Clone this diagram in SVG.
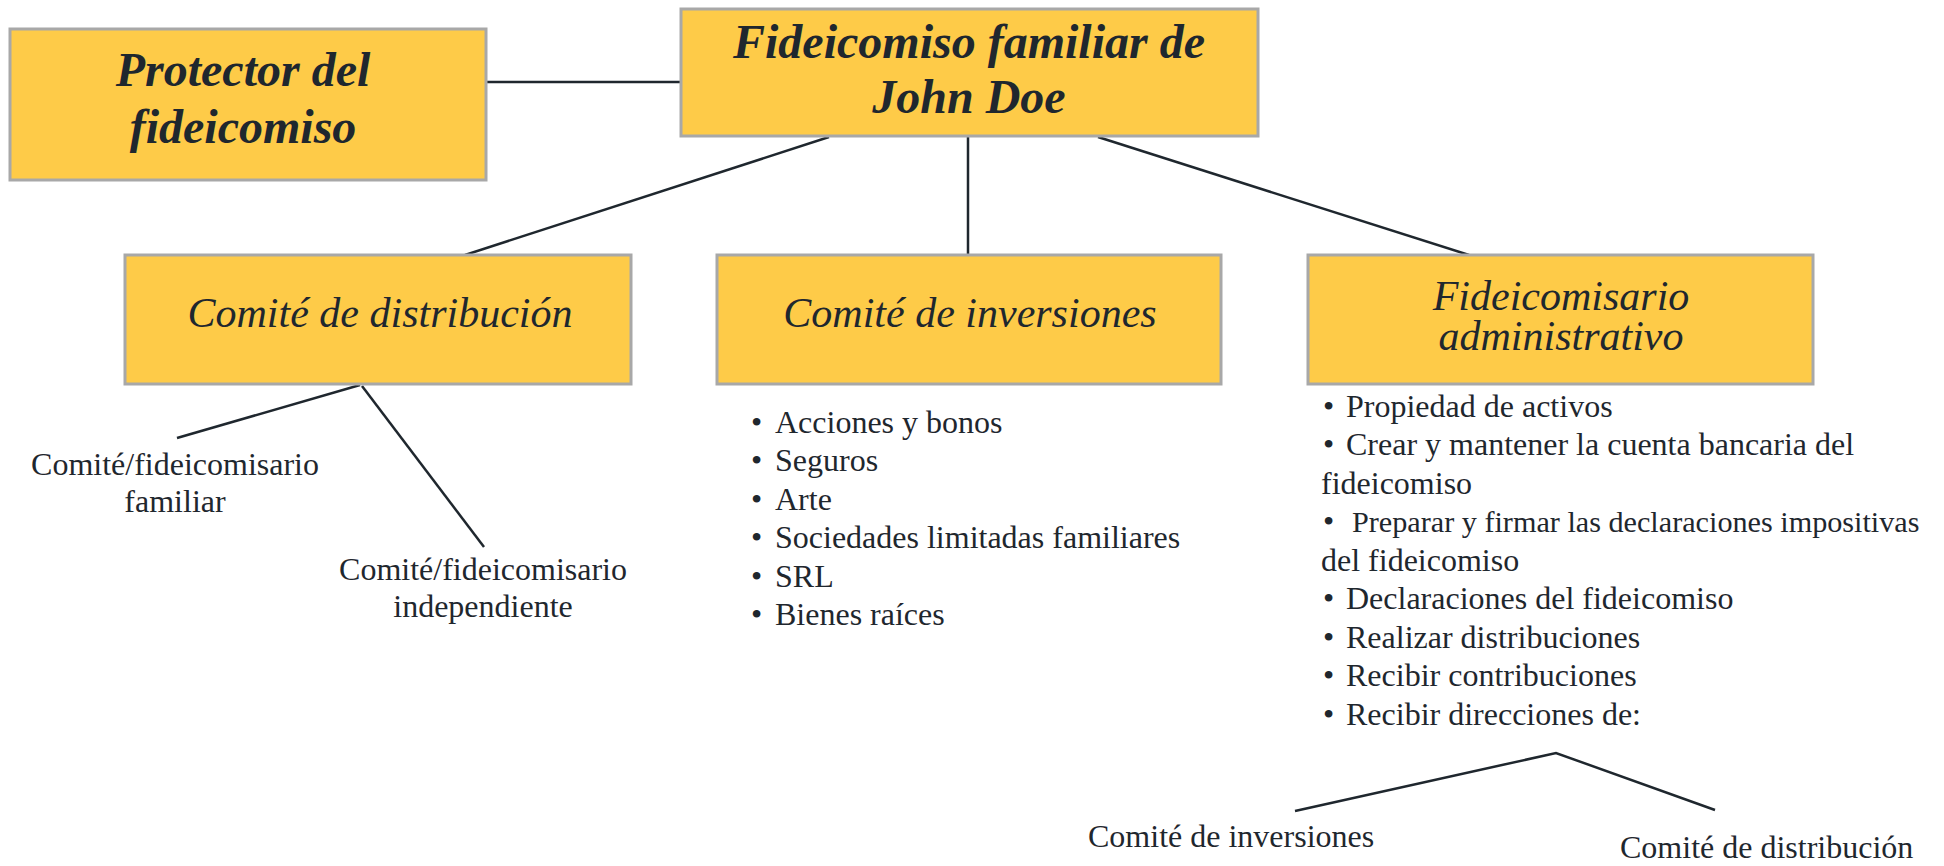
<svg xmlns="http://www.w3.org/2000/svg" width="1944" height="866" viewBox="0 0 1944 866">
<style>
.box{fill:#FECB48;stroke:#A8A8A8;stroke-width:3}
.t{font-family:"Liberation Serif","Times New Roman",serif;fill:#1F272E}
.bi{font-size:48px;font-weight:bold;font-style:italic}
.it{font-size:42px;font-style:italic}
.rg{font-size:32px}
.ln{stroke:#1F272E;stroke-width:2.5;fill:none}
</style>
<rect width="1944" height="866" fill="#FFFFFF"/>
<g id="connectors">
<line class="ln" x1="486" y1="82" x2="681" y2="82"/>
<line class="ln" x1="829" y1="137" x2="465" y2="255"/>
<line class="ln" x1="968" y1="137" x2="968" y2="255"/>
<line class="ln" x1="1098" y1="137" x2="1469" y2="255"/>
<line class="ln" x1="360" y1="385" x2="177" y2="438"/>
<line class="ln" x1="362" y1="386" x2="484" y2="547"/>
<polyline class="ln" points="1295,811 1556,753 1715,810"/>
</g>
<g id="protector">
<rect class="box" x="10" y="29" width="476" height="151"/>
<text class="t bi" text-anchor="middle" x="243" y="86">Protector del</text>
<text class="t bi" text-anchor="middle" x="243" y="143">fideicomiso</text>
</g>
<g id="fideicomiso">
<rect class="box" x="681" y="9" width="577" height="127"/>
<text class="t bi" text-anchor="middle" x="969" y="58">Fideicomiso familiar de</text>
<text class="t bi" text-anchor="middle" x="969" y="113">John Doe</text>
</g>
<g id="distribucion">
<rect class="box" x="125" y="255" width="506" height="129"/>
<text class="t it" text-anchor="middle" x="380" y="327">Comité de distribución</text>
</g>
<g id="inversiones">
<rect class="box" x="717" y="255" width="504" height="129"/>
<text class="t it" text-anchor="middle" x="970" y="327">Comité de inversiones</text>
</g>
<g id="administrativo">
<rect class="box" x="1308" y="255" width="505" height="129"/>
<text class="t it" text-anchor="middle" x="1561" y="310">Fideicomisario</text>
<text class="t it" text-anchor="middle" x="1561" y="350">administrativo</text>
</g>
<g id="fam-label">
<text class="t rg" text-anchor="middle" x="175" y="475">Comité/fideicomisario</text>
<text class="t rg" text-anchor="middle" x="175" y="512">familiar</text>
</g>
<g id="ind-label">
<text class="t rg" text-anchor="middle" x="483" y="580">Comité/fideicomisario</text>
<text class="t rg" text-anchor="middle" x="483" y="617">independiente</text>
</g>
<g id="inv-list">
<text class="t rg" x="751" y="433">•</text><text class="t rg" x="775" y="433">Acciones y bonos</text>
<text class="t rg" x="751" y="471">•</text><text class="t rg" x="775" y="471">Seguros</text>
<text class="t rg" x="751" y="510">•</text><text class="t rg" x="775" y="510">Arte</text>
<text class="t rg" x="751" y="548">•</text><text class="t rg" x="775" y="548">Sociedades limitadas familiares</text>
<text class="t rg" x="751" y="587">•</text><text class="t rg" x="775" y="587">SRL</text>
<text class="t rg" x="751" y="625">•</text><text class="t rg" x="775" y="625">Bienes raíces</text>
</g>
<g id="adm-list">
<text class="t rg" x="1323" y="417">•</text><text class="t rg" x="1346" y="417">Propiedad de activos</text>
<text class="t rg" x="1323" y="455">•</text><text class="t rg" x="1346" y="455">Crear y mantener la cuenta bancaria del</text>
<text class="t rg" x="1321" y="494">fideicomiso</text>
<text class="t rg" x="1323" y="532">•</text><text class="t" style="font-size:30.2px" x="1352" y="532">Preparar y firmar las declaraciones impositivas</text>
<text class="t rg" x="1321" y="571">del fideicomiso</text>
<text class="t rg" x="1323" y="609">•</text><text class="t rg" x="1346" y="609">Declaraciones del fideicomiso</text>
<text class="t rg" x="1323" y="648">•</text><text class="t rg" x="1346" y="648">Realizar distribuciones</text>
<text class="t rg" x="1323" y="686">•</text><text class="t rg" x="1346" y="686">Recibir contribuciones</text>
<text class="t rg" x="1323" y="725">•</text><text class="t rg" x="1346" y="725">Recibir direcciones de:</text>
</g>
<g id="bottom-inv">
<text class="t rg" x="1088" y="847">Comité de inversiones</text>
</g>
<g id="bottom-dist">
<text class="t rg" x="1620" y="858">Comité de distribución</text>
</g>
</svg>
